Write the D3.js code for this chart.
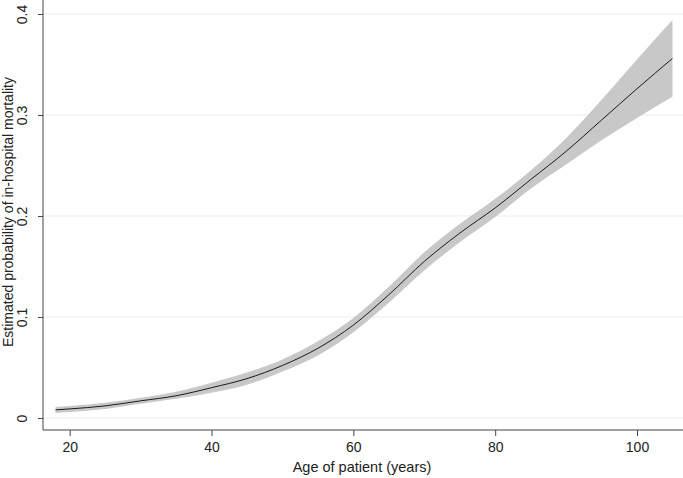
<!DOCTYPE html>
<html>
<head>
<meta charset="utf-8">
<script src="https://cdn.jsdelivr.net/npm/d3@7"></script>
<style>
  body { margin: 0; background: #fff; }
  text { font-family: Arial, "Liberation Sans", sans-serif; fill: #222; }
</style>
</head>
<body>
<script>
// age of patient and estimated probability, with 95% band
const ages     = [18, 20, 25, 30, 35, 40, 45, 50, 55, 60, 65, 70, 75, 80, 85, 90, 95, 100, 105];
const estimate = [0.008, 0.009, 0.012, 0.017, 0.022, 0.030, 0.039, 0.052, 0.069, 0.092, 0.122, 0.155, 0.183, 0.208, 0.236, 0.264, 0.295, 0.326, 0.356];
const lower    = [0.005, 0.006, 0.009, 0.014, 0.019, 0.025, 0.033, 0.046, 0.062, 0.085, 0.114, 0.146, 0.174, 0.199, 0.227, 0.251, 0.275, 0.297, 0.318];
const upper    = [0.011, 0.012, 0.015, 0.020, 0.026, 0.035, 0.045, 0.058, 0.076, 0.099, 0.130, 0.164, 0.192, 0.217, 0.245, 0.277, 0.315, 0.355, 0.394];

const xTicks = [20, 40, 60, 80, 100];
const yTicks = [0, 0.1, 0.2, 0.3, 0.4];

const width = 683;
const height = 478;

const svg = d3.select('body')
  .append('svg')
  .attr('width', width)
  .attr('height', height);

const x = d3.scaleLinear().domain([20, 100]).range([69.7, 637]);
const y = d3.scaleLinear().domain([0, 0.4]).range([418, 14]);

const left = 43, bottom = 430, right = width;

// gridlines
svg.append('g')
  .selectAll('line')
  .data(yTicks)
  .enter().append('line')
  .attr('x1', left).attr('x2', right)
  .attr('y1', (d) => y(d)).attr('y2', (d) => y(d))
  .attr('stroke', '#ececec')
  .attr('stroke-width', 1);

const rows = ages.map((a, i) => ({age: a, est: estimate[i], lo: lower[i], hi: upper[i]}));

// confidence band
svg.append('path')
  .datum(rows)
  .attr('fill', '#c8c8c8')
  .attr('d', d3.area()
    .x((d) => x(d.age))
    .y0((d) => y(d.lo))
    .y1((d) => y(d.hi))
    .curve(d3.curveMonotoneX));

// estimate line
svg.append('path')
  .datum(rows)
  .attr('fill', 'none')
  .attr('stroke', '#1a1a1a')
  .attr('stroke-width', 1)
  .attr('d', d3.line()
    .x((d) => x(d.age))
    .y((d) => y(d.est))
    .curve(d3.curveMonotoneX));

// x axis
const xAxis = svg.append('g')
  .attr('transform', `translate(0,${bottom})`)
  .call(d3.axisBottom(x).tickValues(xTicks).tickSize(6).tickPadding(6).tickFormat(d3.format('d')));
xAxis.select('.domain').attr('d', `M${left},0H${right}`);

// y axis
const yAxis = svg.append('g')
  .attr('transform', `translate(${left},0)`)
  .call(d3.axisLeft(y).tickValues(yTicks).tickSize(5).tickFormat((d) => d === 0 ? '0' : d3.format('.1f')(d)));
yAxis.select('.domain').attr('d', `M0,0V${bottom}`);
yAxis.selectAll('.tick text')
  .attr('x', 0).attr('dy', 0)
  .attr('transform', 'translate(-16,0) rotate(-90)')
  .attr('text-anchor', 'middle');

[xAxis, yAxis].forEach((g) => {
  g.selectAll('.domain').attr('stroke', '#444');
  g.selectAll('.tick line').attr('stroke', '#444');
  g.selectAll('.tick text').style('font-size', '14px').attr('fill', '#222')
    .style('font-family', 'Arial, "Liberation Sans", sans-serif');
});

// axis titles
svg.append('text')
  .attr('x', 362).attr('y', 472)
  .attr('text-anchor', 'middle')
  .style('font-size', '14.5px')
  .text('Age of patient (years)');

svg.append('text')
  .attr('transform', 'translate(13,212) rotate(-90)')
  .attr('text-anchor', 'middle')
  .style('font-size', '14px')
  .text('Estimated probability of in-hospital mortality');
</script>
</body>
</html>
